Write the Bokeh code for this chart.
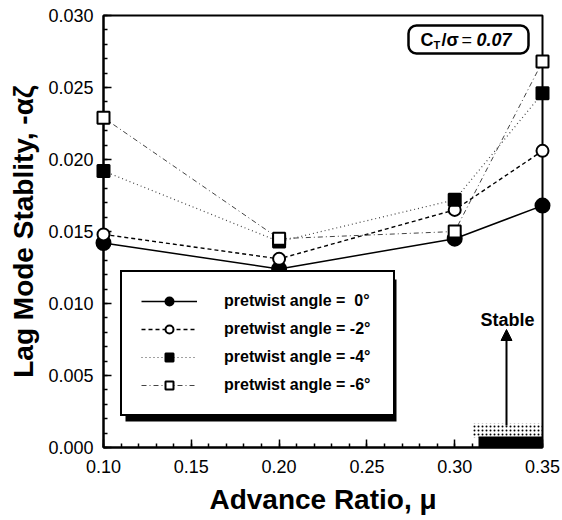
from bokeh.plotting import figure
from bokeh.models import (Range1d, FixedTicker, NumeralTickFormatter, Legend,
                          LegendItem, Label, BoxAnnotation, Arrow, NormalHead)
from bokeh.embed import file_html
from bokeh.resources import INLINE

# ---------------- data ----------------
advance_ratio = [0.10, 0.20, 0.30, 0.35]
stab_0deg = [0.0142, 0.0124, 0.0145, 0.0168]
stab_m2deg = [0.0148, 0.0131, 0.0165, 0.0206]
stab_m4deg = [0.0192, 0.0143, 0.0172, 0.0246]
stab_m6deg = [0.0229, 0.0145, 0.0150, 0.0268]
series_labels = ["pretwist angle =  0°", "pretwist angle = -2°",
                 "pretwist angle = -4°", "pretwist angle = -6°"]
x_major_ticks = [0.10, 0.15, 0.20, 0.25, 0.30, 0.35]
x_minor_ticks = [round(0.10 + 0.01 * i, 2) for i in range(26)]
y_major_ticks = [0.000, 0.005, 0.010, 0.015, 0.020, 0.025, 0.030]
y_minor_ticks = [round(0.001 * i, 3) for i in range(31)]

# ---------------- layout ----------------
W, H = 562, 520
ML, MR, MT, MB = 103, 20, 15, 73
FW = W - ML - MR
FH = H - MT - MB
X0, X1 = 0.10, 0.35
Y0, Y1 = 0.0, 0.030
FONT = "Liberation Sans"


def dx(px):
    return X0 + (px - ML) / FW * (X1 - X0)


def dy(py):
    return Y0 + (MT + FH - py) / FH * (Y1 - Y0)


p = figure(width=W, height=H, output_backend="svg", toolbar_location=None,
           x_range=Range1d(X0, X1), y_range=Range1d(Y0, Y1),
           min_border_left=ML, min_border_right=MR, min_border_top=MT, min_border_bottom=MB)
p.background_fill_color = "white"
p.border_fill_color = "white"
p.outline_line_color = "black"
p.outline_line_width = 2
p.grid.visible = False

p.xaxis.ticker = FixedTicker(ticks=x_major_ticks, minor_ticks=x_minor_ticks)
p.yaxis.ticker = FixedTicker(ticks=y_major_ticks, minor_ticks=y_minor_ticks)
p.xaxis.formatter = NumeralTickFormatter(format="0.00")
p.yaxis.formatter = NumeralTickFormatter(format="0.000")
for ax in (p.xaxis, p.yaxis):
    ax.axis_line_width = 2
    ax.axis_line_color = "black"
    ax.major_tick_in = 8
    ax.major_tick_out = 0
    ax.minor_tick_in = 4
    ax.minor_tick_out = 0
    ax.major_tick_line_width = 1.5
    ax.minor_tick_line_width = 1.5
    ax.major_tick_line_color = "black"
    ax.minor_tick_line_color = "black"
    ax.major_label_text_font = FONT
    ax.major_label_text_font_size = "18px"
    ax.major_label_text_color = "black"
    ax.axis_label_text_font = FONT
    ax.axis_label_text_font_size = "28px"
    ax.axis_label_text_font_style = "bold"
    ax.axis_label_text_color = "black"
p.xaxis.major_label_standoff = 12
p.yaxis.major_label_standoff = 10
p.xaxis.axis_label = "Advance Ratio, μ"
p.yaxis.axis_label = "Lag Mode Stablity, -αζ"
p.xaxis.axis_label_standoff = 8
p.yaxis.axis_label_standoff = 6

# ---------------- series ----------------
styles = [
    dict(y=stab_0deg, dash="solid", lw=1.5, lc="black", marker="circle", size=14, fill="black"),
    dict(y=stab_m2deg, dash="4 3", lw=1.4, lc="black", marker="circle", size=12, fill="white"),
    dict(y=stab_m4deg, dash="1 3", lw=1.2, lc="#444444", marker="square", size=12, fill="black"),
    dict(y=stab_m6deg, dash="5 3 1 3", lw=1.0, lc="#444444", marker="square", size=12, fill="white"),
]
items = []
for st, lab in zip(styles, series_labels):
    lr = p.line(advance_ratio, st["y"], line_color=st["lc"], line_width=st["lw"],
                line_dash=st["dash"])
    mr = p.scatter(advance_ratio, st["y"], marker=st["marker"], size=st["size"],
                   fill_color=st["fill"], line_color="black", line_width=2, level="overlay")
    items.append(LegendItem(label=lab, renderers=[lr, mr]))

# legend shadow + legend
shadow = BoxAnnotation(left=dx(125), right=dx(396), top=dy(279), bottom=dy(421),
                       fill_color="black", fill_alpha=1, line_alpha=0)
p.add_layout(shadow)
legend = Legend(items=items, location=(17, 31), margin=0, padding=19, spacing=8,
                glyph_width=56, glyph_height=20, label_height=20, label_width=150,
                label_standoff=27, border_line_color="black", border_line_width=2,
                border_line_alpha=1, background_fill_color="white", background_fill_alpha=1,
                label_text_font=FONT, label_text_font_style="bold",
                label_text_font_size="16px", label_text_color="black")
p.add_layout(legend)

# ---------------- CT/sigma box ----------------
ct_box = BoxAnnotation(left=dx(408), right=dx(528), top=dy(25), bottom=dy(53),
                       fill_color="white", fill_alpha=1, line_color="black", line_alpha=1,
                       line_width=2.5, border_radius=8)
p.add_layout(ct_box)
for txt, px, py, size, style in [("C", 420, 39, "18px", "bold"),
                                 ("T", 433, 44, "11px", "bold"),
                                 ("/σ", 441, 39, "18px", "bold"),
                                 ("=", 461, 39, "18px", "normal"),
                                 ("0.07", 476, 39, "18px", "bold italic")]:
    p.add_layout(Label(x=dx(px), y=dy(py), text=txt, text_font=FONT, text_font_size=size,
                       text_font_style=style, text_align="left", text_baseline="middle",
                       text_color="black"))

# ---------------- stable region ----------------
stipple = BoxAnnotation(left=dx(472), right=dx(542), top=dy(423), bottom=dy(437),
                        fill_alpha=0, line_alpha=0, hatch_pattern=".", hatch_color="black",
                        hatch_alpha=1, hatch_scale=4, hatch_weight=2)
p.add_layout(stipple)
solid = BoxAnnotation(left=dx(478), right=dx(542), top=dy(436), bottom=dy(447),
                      fill_color="black", fill_alpha=1, line_alpha=0)
p.add_layout(solid)
p.add_layout(Arrow(x_start=dx(506), y_start=dy(425), x_end=dx(506), y_end=dy(329),
                   line_width=2, line_color="black",
                   end=NormalHead(size=11, fill_color="black", line_color="black")))
p.add_layout(Label(x=dx(507), y=dy(319), text="Stable", text_font=FONT, text_font_size="18px",
                   text_font_style="bold", text_align="center", text_baseline="middle",
                   text_color="black"))

open("out.html", "w").write(file_html(p, INLINE))
